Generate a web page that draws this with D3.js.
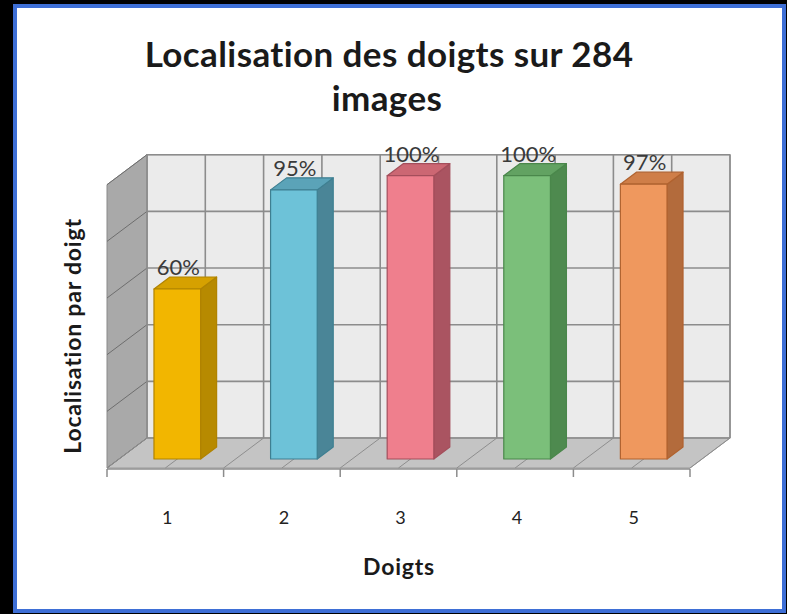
<!DOCTYPE html>
<html>
<head>
<meta charset="utf-8">
<script src="https://cdn.jsdelivr.net/npm/d3@7/dist/d3.min.js"></script>
<style>
  html, body { margin: 0; padding: 0; background: #000; }
  svg { display: block; }
</style>
</head>
<body>
<script>
// Chart data
const categories = ["1", "2", "3", "4", "5"];
const values = [60, 95, 100, 100, 97];
const valueLabels = ["60%", "95%", "100%", "100%", "97%"];
const yTicks = [0, 20, 40, 60, 80, 100];
const frontColors = ["#F2B600", "#6DC2D8", "#EF7F8D", "#7BBF7A", "#EF985E"];
const sideColors  = ["#B78A00", "#4A8597", "#AA5461", "#4E8A4F", "#B36B3C"];
const topColors   = ["#D6A100", "#5BA3B8", "#CC6773", "#62A262", "#CF7E48"];
const edgeColors  = ["#B08300", "#3E7F91", "#A44E5B", "#4A874B", "#B0622F"];

const W = 787, H = 614;
const svg = d3.select("body").append("svg").attr("width", W).attr("height", H);

// slide frame
svg.append("rect").attr("width", W).attr("height", H).attr("fill", "#000");
svg.append("rect").attr("x", 15).attr("y", 6).attr("width", 769).attr("height", 605)
  .attr("fill", "#fff").attr("stroke", "#3e6fd6").attr("stroke-width", 4);

// 3D layout: front plane of the floor, plus depth offset towards the back
const front = { left: 107, right: 690, base: 468 };
const depth = { dx: 40, dy: -30 };
const x = d3.scaleBand().domain(categories).range([front.left, front.right]).paddingInner(0).paddingOuter(0);
const y = d3.scaleLinear().domain([0, 100]).range([front.base, front.base - 283.3]);

// project a point given front x, value and depth fraction (0 = front, 1 = back)
const P = (fx, v, d) => [fx + depth.dx * d, y(v) + depth.dy * d];
const poly = pts => "M" + pts.map(p => p.join(",")).join("L") + "Z";

const g = svg.append("g");

// back wall
g.append("path")
  .attr("d", poly([P(front.left, 0, 1), P(front.right, 0, 1), P(front.right, 100, 1), P(front.left, 100, 1)]))
  .attr("fill", "#ebebeb").attr("stroke", "#9a9a9a").attr("stroke-width", 1.2);

// left wall
g.append("path")
  .attr("d", poly([P(front.left, 0, 0), P(front.left, 0, 1), P(front.left, 100, 1), P(front.left, 100, 0)]))
  .attr("fill", "#a9a9a9").attr("stroke", "#8a8a8a").attr("stroke-width", 1);

// floor
g.append("path")
  .attr("d", poly([P(front.left, 0, 0), P(front.right, 0, 0), P(front.right, 0, 1), P(front.left, 0, 1)]))
  .attr("fill", "#c4c4c4").attr("stroke", "#9a9a9a").attr("stroke-width", 1);

// vertical grid positions: category edges and centres
const xGrid = [];
categories.forEach(c => { xGrid.push(x(c)); xGrid.push(x(c) + x.bandwidth() / 2); });
xGrid.push(front.right);

// horizontal gridlines on back wall and left wall
yTicks.forEach(t => {
  g.append("line")
    .attr("x1", P(front.left, t, 1)[0]).attr("y1", P(front.left, t, 1)[1])
    .attr("x2", P(front.right, t, 1)[0]).attr("y2", P(front.right, t, 1)[1])
    .attr("stroke", "#8c8c8c").attr("stroke-width", 1.6);
  g.append("line")
    .attr("x1", P(front.left, t, 1)[0]).attr("y1", P(front.left, t, 1)[1])
    .attr("x2", P(front.left, t, 0)[0]).attr("y2", P(front.left, t, 0)[1])
    .attr("stroke", "#6e6e6e").attr("stroke-width", 1);
});

// vertical gridlines on back wall, continuing across the floor
xGrid.forEach(gx => {
  g.append("line")
    .attr("x1", P(gx, 0, 1)[0]).attr("y1", P(gx, 0, 1)[1])
    .attr("x2", P(gx, 100, 1)[0]).attr("y2", P(gx, 100, 1)[1])
    .attr("stroke", "#8c8c8c").attr("stroke-width", 1.6);
  g.append("line")
    .attr("x1", P(gx, 0, 1)[0]).attr("y1", P(gx, 0, 1)[1])
    .attr("x2", P(gx, 0, 0)[0]).attr("y2", P(gx, 0, 0)[1])
    .attr("stroke", "#8e8e8e").attr("stroke-width", 1);
});

// category axis with outward ticks
const axisG = svg.append("g").attr("transform", `translate(0,${front.base + 1})`);
axisG.append("line").attr("x1", front.left).attr("x2", front.right)
  .attr("stroke", "#8c8c8c").attr("stroke-width", 1.5);
[...categories.map(c => x(c)), front.right].forEach(tx => {
  axisG.append("line").attr("x1", tx).attr("x2", tx).attr("y1", 0).attr("y2", 8)
    .attr("stroke", "#8c8c8c").attr("stroke-width", 1.5);
});

// bars (gap width 150%, depth 40% of the floor, centred)
const barFrac = 0.4, d0 = 0.3, d1 = 0.7;
categories.forEach((c, i) => {
  const v = values[i];
  const xl = x(c) + x.bandwidth() * (1 - barFrac) / 2;
  const xr = xl + x.bandwidth() * barFrac;
  const bg = g.append("g").attr("stroke", edgeColors[i]).attr("stroke-width", 1.2).attr("stroke-linejoin", "round");
  bg.append("path").attr("d", poly([P(xr, 0, d0), P(xr, 0, d1), P(xr, v, d1), P(xr, v, d0)])).attr("fill", sideColors[i]);
  bg.append("path").attr("d", poly([P(xl, v, d0), P(xr, v, d0), P(xr, v, d1), P(xl, v, d1)])).attr("fill", topColors[i]);
  bg.append("path").attr("d", poly([P(xl, 0, d0), P(xr, 0, d0), P(xr, v, d0), P(xl, v, d0)])).attr("fill", frontColors[i]);

  const lx = (xl + xr) / 2 + depth.dx * d0 + 1;
  const ly = P(xl, v, d1)[1] - 2;
  svg.append("text").attr("x", lx).attr("y", ly)
    .attr("text-anchor", "middle")
    .attr("font-family", "Lato, 'Open Sans', sans-serif").attr("font-size", 22)
    .attr("fill", "#3a3a3a").text(valueLabels[i]);
});

// category tick labels
categories.forEach(c => {
  svg.append("text").attr("x", x(c) + x.bandwidth() / 2 + 2).attr("y", 524)
    .attr("text-anchor", "middle")
    .attr("font-family", "Lato, sans-serif").attr("font-size", 18)
    .attr("fill", "#222").text(c);
});

// titles
const title = svg.append("text").attr("text-anchor", "middle")
  .attr("font-family", "Lato, sans-serif").attr("font-weight", "bold")
  .attr("font-size", 35).attr("letter-spacing", 0.4).attr("fill", "#1a1a1a");
title.append("tspan").attr("x", 389).attr("y", 67).text("Localisation des doigts sur 284");
title.append("tspan").attr("x", 387).attr("y", 111).text("images");

svg.append("text").attr("x", 399).attr("y", 575).attr("text-anchor", "middle")
  .attr("font-family", "Lato, sans-serif").attr("font-weight", "bold")
  .attr("font-size", 23).attr("letter-spacing", 0.8).attr("fill", "#1a1a1a").text("Doigts");

svg.append("text").attr("transform", "translate(81,336) rotate(-90)")
  .attr("text-anchor", "middle")
  .attr("font-family", "Lato, sans-serif").attr("font-weight", "bold")
  .attr("font-size", 23).attr("letter-spacing", 0.8).attr("fill", "#1a1a1a").text("Localisation par doigt");
</script>
</body>
</html>
